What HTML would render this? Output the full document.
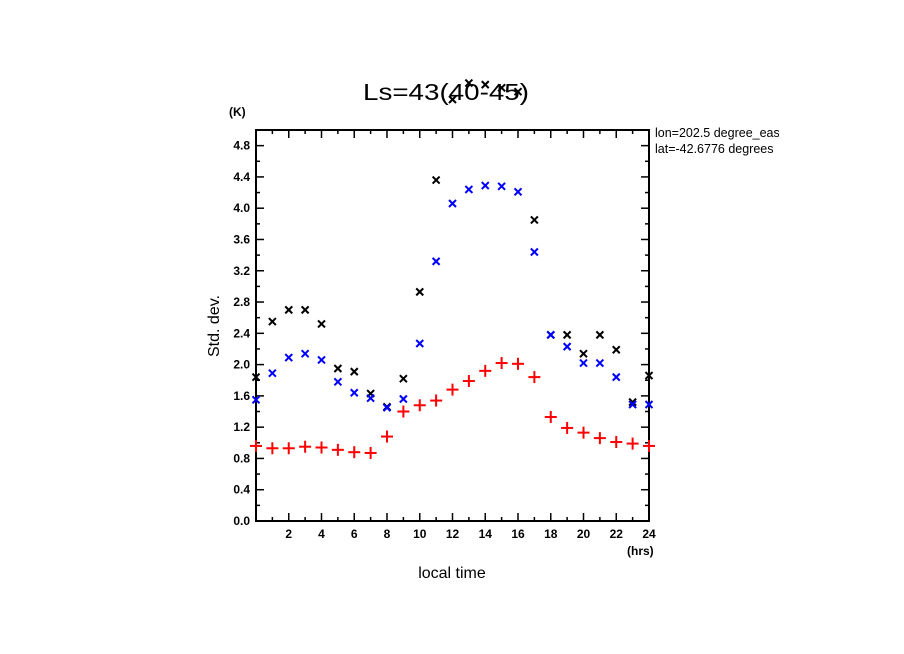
<!DOCTYPE html>
<html><head><meta charset="utf-8"><style>body{margin:0;background:#fff}svg{display:block;font-family:"Liberation Sans",sans-serif}</style></head>
<body>
<svg id="c" width="904" height="654"><defs><clipPath id="sc"><rect x="640" y="120" width="139" height="50"/></clipPath></defs></svg>
<script>
const hours=[0,1,2,3,4,5,6,7,8,9,10,11,12,13,14,15,16,17,18,19,20,21,22,23,24];
const blackVals=[1.84,2.55,2.70,2.70,2.52,1.95,1.91,1.63,1.46,1.82,2.93,4.36,5.39,5.60,5.58,5.54,5.49,3.85,2.38,2.38,2.14,2.38,2.19,1.52,1.86];
const blueVals=[1.55,1.89,2.09,2.14,2.06,1.78,1.64,1.57,1.45,1.56,2.27,3.32,4.06,4.24,4.29,4.28,4.21,3.44,2.38,2.23,2.02,2.02,1.84,1.49,1.49];
const redVals=[0.96,0.93,0.93,0.95,0.94,0.91,0.88,0.87,1.08,1.40,1.48,1.54,1.68,1.79,1.92,2.02,2.01,1.84,1.33,1.19,1.13,1.06,1.01,0.99,0.96];
const yTicks=["0.0","0.4","0.8","1.2","1.6","2.0","2.4","2.8","3.2","3.6","4.0","4.4","4.8"];
const xTicks=["2","4","6","8","10","12","14","16","18","20","22","24"];
const X0=256,X1=649,Y0=521,Y1=130,XMAX=24,YMAX=5.0;
const sx=v=>X0+(X1-X0)*v/XMAX, sy=v=>Y0-(Y0-Y1)*v/YMAX;
const svg=document.getElementById('c');const NS='http://www.w3.org/2000/svg';
function mk(t,a,p){const e=document.createElementNS(NS,t);for(const k in a)e.setAttribute(k,a[k]);(p||svg).appendChild(e);return e;}
function txt(s,a){const e=mk('text',a);e.textContent=s;return e;}
let e=mk('rect',{x:X0,y:Y1,width:X1-X0,height:Y0-Y1,fill:'none',stroke:'#000','stroke-width':2});


const ax=mk('g',{stroke:'#000','stroke-width':1.5});


for(let v=0;v<=YMAX+1e-9;v+=0.2){const y=sy(v);const maj=Math.round(v*10)%4===0;const l=maj?8:4;
mk('line',{x1:X0,x2:X0+l,y1:y,y2:y},ax);mk('line',{x1:X1,x2:X1-l,y1:y,y2:y},ax);}
for(let h=0;h<=XMAX;h++){const x=sx(h);const l=h%2===0?8:4;mk('line',{x1:x,x2:x,y1:Y0,y2:Y0-l},ax);mk('line',{x1:x,x2:x,y1:Y1,y2:Y1+l},ax);}
yTicks.forEach(s=>{const t=txt(s,{x:X0-6,y:sy(parseFloat(s))+4,'text-anchor':'end','font-size':12,'font-weight':'bold'});

});
xTicks.forEach(s=>{const t=txt(s,{x:sx(parseFloat(s)),y:Y0+17,'text-anchor':'middle','font-size':12,'font-weight':'bold'});

});
function cross(v,h,col,name){const x=sx(h),y=sy(v);const g=mk('g',{stroke:col,'stroke-width':2});


mk('line',{x1:x-3.5,y1:y-3.5,x2:x+3.5,y2:y+3.5},g);mk('line',{x1:x-3.5,y1:y+3.5,x2:x+3.5,y2:y-3.5},g);}
function plus(v,h,col,name){const x=sx(h),y=sy(v);const g=mk('g',{stroke:col,'stroke-width':2});


mk('line',{x1:x-6,y1:y,x2:x+6,y2:y},g);mk('line',{x1:x,y1:y-6,x2:x,y2:y+6},g);}
hours.forEach((h,i)=>cross(blackVals[i],h,'#000','black-point'));
hours.forEach((h,i)=>cross(blueVals[i],h,'#0000ff','blue-point'));
hours.forEach((h,i)=>plus(redVals[i],h,'#ff0000','red-point'));
const labels=[["Ls=43(40-45)",{x:446,y:100,'text-anchor':'middle','font-size':23,textLength:166,lengthAdjust:'spacingAndGlyphs'},"chart-title"],
["(K)",{x:229,y:116,'font-size':12,'font-weight':'bold'},"y-unit"],
["(hrs)",{x:627,y:555,'font-size':12,'font-weight':'bold'},"x-unit"],
["local time",{x:452,y:578,'text-anchor':'middle','font-size':16},"x-axis-title"],
["lon=202.5 degree_east",{x:655,y:137,'font-size':12.5,'clip-path':'url(#sc)'},"lon-note"],
["lat=-42.6776 degrees",{x:655,y:153,'font-size':12.5,'clip-path':'url(#sc)'},"lat-note"]];
labels.forEach(([s,a,n])=>{const t=txt(s,a);});
const yl=txt("Std. dev.",{x:0,y:0,transform:'translate(219,326) rotate(-90)','text-anchor':'middle','font-size':16});


</script>
</body></html>
